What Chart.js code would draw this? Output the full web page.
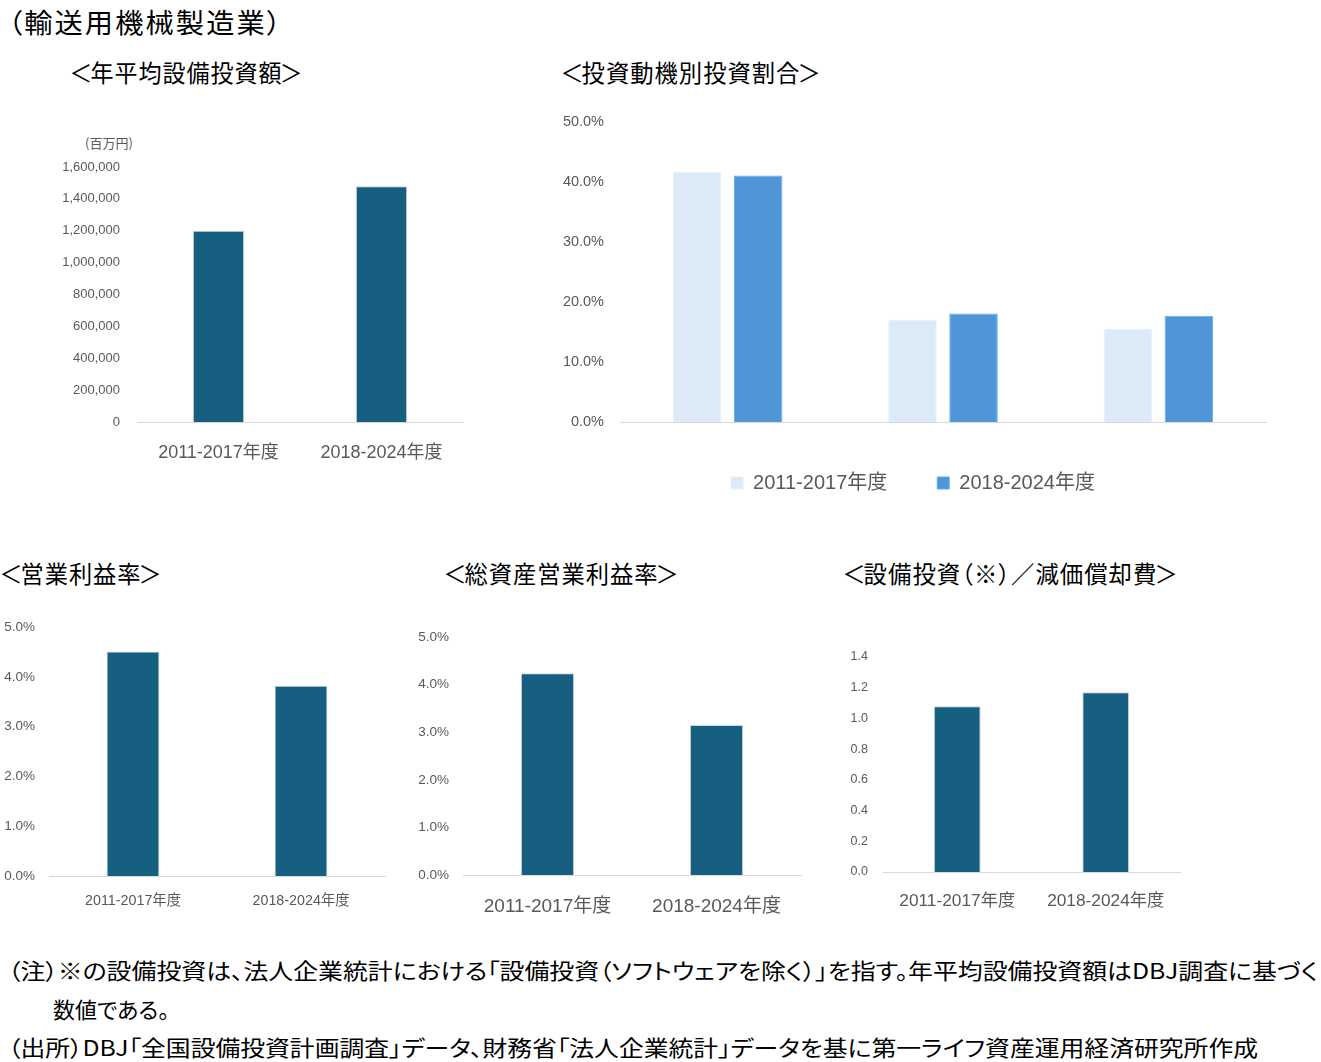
<!DOCTYPE html>
<html lang="ja">
<head>
<meta charset="UTF-8">
<title>輸送用機械製造業</title>
<script src="https://cdn.jsdelivr.net/npm/chart.js@4.4.1/dist/chart.umd.min.js"></script>
<style>
  body { margin: 0; background: #fff; width: 1321px; height: 1062px; position: relative; overflow: hidden;
         font-family: "Noto Sans CJK JP", sans-serif; color: #000; }
  .txt { position: absolute; white-space: nowrap; line-height: 1; transform-origin: left center; font-feature-settings: "palt"; }
  .ttl { font-size: 24px; letter-spacing: 1px; }
  .lb { margin-left: -6px; margin-right: -3px; }
  .rb { margin-left: -3px; margin-right: -6px; }
  .note { font-size: 22px; }
  .box { position: absolute; }
</style>
<script>
// data
const periods = ['2011-2017年度', '2018-2024年度'];
const capexValues = [1200000, 1480000];
const capexTicks = [0, 1600000, 200000];

const motiveCategories = ['研究開発＋新製品・製品高度化', '能力増強', '維持・補修'];
const motive2011 = [41.7, 17.1, 15.5];
const motive2018 = [41.1, 18.1, 17.7];
const motiveTicks = [0, 50, 10];

const opMargin = [4.51, 3.82];
const roaValues = [4.24, 3.15];
const pctTicks = [0, 5, 1];

const capexToDep = [1.08, 1.17];
const ratioTicks = [0, 1.4, 0.2];

const NAVY = '#175f80';
const FONT = "'Liberation Sans', 'Noto Sans CJK JP', sans-serif";

function pct(v) { return v.toFixed(1) + '%'; }

function makeBar(id, labels, datasets, o) {
    const ctx = document.getElementById(id).getContext('2d');
    return new Chart(ctx, {
        type: 'bar',
        data: { labels: labels, datasets: datasets },
        options: {
            responsive: false,
            animation: false,
            layout: { padding: { top: o.top, right: o.right, left: o.left || 0, bottom: 0 } },
            plugins: {
                legend: o.legend || { display: false },
                tooltip: { enabled: false }
            },
            scales: {
                x: {
                    grid: { display: false, drawTicks: false },
                    border: { display: true, color: '#d9d9d9', width: 1 },
                    ticks: { color: '#595959', font: { family: FONT, size: o.xSize }, padding: o.xPad, maxRotation: 0, autoSkip: false },
                    afterFit: function(s) {
                        s.height = o.xH;
                        s.paddingLeft = 0; s.paddingRight = 0;
                    }
                },
                y: {
                    min: o.ticks[0], max: o.ticks[1],
                    grid: { display: false, drawTicks: false },
                    border: { display: false },
                    ticks: { stepSize: o.ticks[2], color: '#595959', font: { family: FONT, size: o.ySize }, padding: o.yPad, callback: o.fmt },
                    afterFit: function(s) {
                        s.width = o.yW;
                        // keep the label overflow from pushing the plot down
                        s.paddingTop = 0; s.paddingBottom = 0;
                    }
                }
            }
        }
    });
}

function navySet(values) {
    return [{ data: values, backgroundColor: NAVY, borderColor: '#c9d6de', borderWidth: 1, categoryPercentage: 1, barPercentage: 0.315 }];
}

// stretch a text line to the width it has in the original
function fitText() {
    document.querySelectorAll('[data-w]').forEach(function(el) {
        const w = el.getBoundingClientRect().width;
        el.style.transform = 'scaleX(' + (parseFloat(el.dataset.w) / w) + ')';
    });
}

document.addEventListener('DOMContentLoaded', function() {
    document.fonts.ready.then(fitText);

    makeBar('c1', periods, navySet(capexValues), {
        top: 37, right: 7, yW: 87, xH: 58, xSize: 18, xPad: 20, ySize: 13, yPad: 17, ticks: capexTicks,
        fmt: v => v.toLocaleString('en-US')
    });

    makeBar('c2', motiveCategories, [
        { label: '2011-2017年度', data: motive2011, backgroundColor: '#dce9f6', borderColor: '#e8f0f9', borderWidth: 1, categoryPercentage: 0.567, barPercentage: 0.795 },
        { label: '2018-2024年度', data: motive2018, backgroundColor: '#4f95d8', borderColor: '#5bb0e8', borderWidth: 1, categoryPercentage: 0.567, barPercentage: 0.795 }
    ], {
        top: 22, right: 14, left: 10, yW: 60, xH: 1, xSize: 14.5, xPad: 15, ySize: 14.5, yPad: 16, ticks: motiveTicks, fmt: pct,
        legend: {
            display: true, position: 'bottom',
            labels: { boxWidth: 12, boxHeight: 12, padding: 50, color: '#595959', font: { family: FONT, size: 20 } }
        }
    });

    makeBar('c3', periods, navySet(opMargin), {
        top: 17, right: 15, yW: 49, xH: 44, xSize: 14.3, xPad: 16, ySize: 13.5, yPad: 14, ticks: pctTicks, fmt: pct
    });

    makeBar('c4', periods, navySet(roaValues), {
        top: 17, right: 9, yW: 53, xH: 45, xSize: 19, xPad: 20, ySize: 13.5, yPad: 14, ticks: pctTicks, fmt: pct
    });

    makeBar('c5', periods, navySet(capexToDep), {
        top: 17, right: 10, yW: 43, xH: 48, xSize: 17.3, xPad: 19, ySize: 12.5, yPad: 15, ticks: ratioTicks,
        fmt: v => v.toFixed(1)
    });
});
</script>
</head>
<body>
  <div class="txt" data-w="275" style="left:8px; top:8px; font-size:27px; letter-spacing:2px;">（輸送用機械製造業）</div>

  <div class="txt ttl" data-w="223" style="left:75px; top:60px;"><span class="lb">＜</span>年平均設備投資額<span class="rb">＞</span></div>
  <div class="txt ttl" data-w="250" style="left:566px; top:60px;"><span class="lb">＜</span>投資動機別投資割合<span class="rb">＞</span></div>
  <div class="txt ttl" data-w="152" style="left:5px; top:561px;"><span class="lb">＜</span>営業利益率<span class="rb">＞</span></div>
  <div class="txt ttl" data-w="225" style="left:449px; top:561px;"><span class="lb">＜</span>総資産営業利益率<span class="rb">＞</span></div>
  <div class="txt ttl" data-w="325" style="left:848px; top:561px;"><span class="lb">＜</span>設備投資（※）／減価償却費<span class="rb">＞</span></div>

  <div class="txt" style="left:85px; top:136px; font-size:13px; color:#595959;">(百万円)</div>

  <canvas id="c1" class="box" width="420" height="350" style="left:50px; top:130px;"></canvas>
  <canvas id="c2" class="box" width="730" height="403" style="left:550px; top:100px;"></canvas>
  <canvas id="c3" class="box" width="400" height="310" style="left:0px; top:610px;"></canvas>
  <canvas id="c4" class="box" width="400" height="300" style="left:410px; top:620px;"></canvas>
  <canvas id="c5" class="box" width="350" height="280" style="left:840px; top:640px;"></canvas>

  <div class="txt note" data-w="1310" style="left:8px; top:958px;">（注）※の設備投資は、法人企業統計における「設備投資（ソフトウェアを除く）」を指す。年平均設備投資額はDBJ調査に基づく</div>
  <div class="txt note" style="left:53px; top:997px;">数値である。</div>
  <div class="txt note" data-w="1250" style="left:8px; top:1035px;">（出所）DBJ「全国設備投資計画調査」データ、財務省「法人企業統計」データを基に第一ライフ資産運用経済研究所作成</div>
</body>
</html>
